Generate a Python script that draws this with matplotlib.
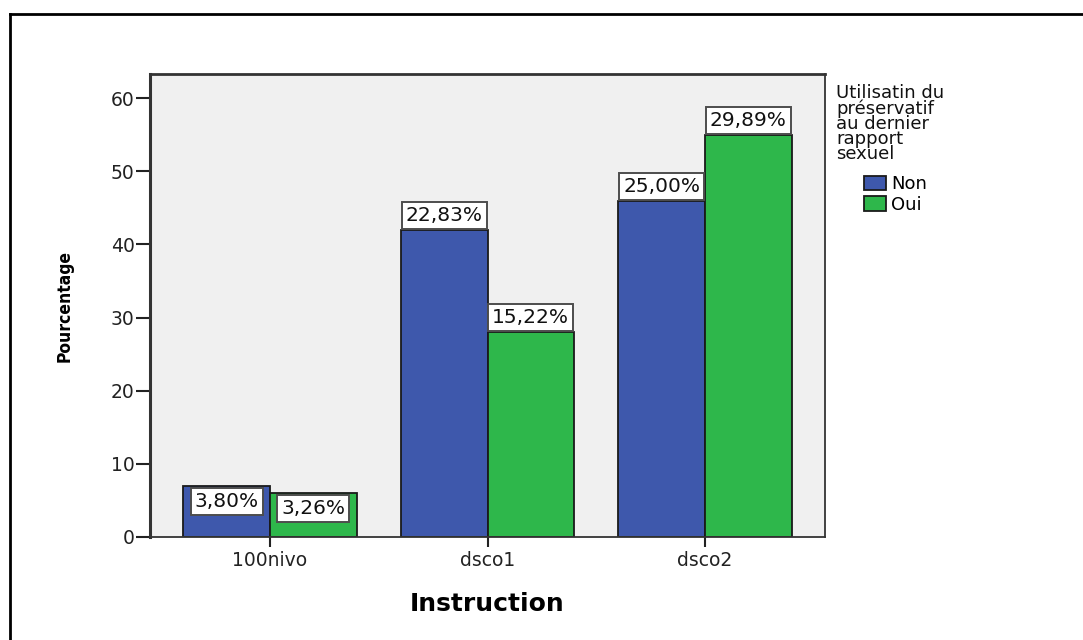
"""Utilisation du préservatif selon l'instruction"""

import matplotlib
matplotlib.use("Agg")
import matplotlib.pyplot as plt
from matplotlib.lines import Line2D
import numpy as np

categories = ["100nivo", "dsco1", "dsco2"]
groups = ["Non", "Oui"]
non_counts = [7, 42, 46]
oui_counts = [6, 28, 55]
non_labels = ["3,80%", "22,83%", "25,00%"]
oui_labels = ["3,26%", "15,22%", "29,89%"]
yticks = [0, 10, 20, 30, 40, 50, 60]

blue = "#3e58ac"
green = "#2eb74b"

plt.rcParams['font.family'] = ['DejaVu Sans']

fig = plt.figure(figsize=(10.83, 6.4), dpi=100)
ax = fig.add_axes([150/1083, 1-537/640, 675/1083, 463/640])
ax.set_facecolor("#f0f0f0")

x = np.arange(len(categories))
w = 0.398
b1 = ax.bar(x - w/2, non_counts, w, color=blue, edgecolor="#1a1a1a", linewidth=1.3, label=groups[0])
b2 = ax.bar(x + w/2, oui_counts, w, color=green, edgecolor="#1a1a1a", linewidth=1.3, label=groups[1])

fs_lab = 14.5
pad = 0.2
box = dict(boxstyle=f"square,pad={pad}", facecolor="white", edgecolor="#4d4d4d", linewidth=1.4)
for bars, labels in [(b1, non_labels), (b2, oui_labels)]:
    for rect, lab in zip(bars, labels):
        cx = rect.get_x() + rect.get_width()/2
        h = rect.get_height()
        if h > 15:
            ax.annotate(lab, (cx, h), xytext=(0, pad*fs_lab + 0.6), textcoords="offset points",
                        ha="center", va="bottom", fontsize=fs_lab, bbox=box, color="#111111")
        else:
            ax.annotate(lab, (cx, h), xytext=(0, -pad*fs_lab - 1.5), textcoords="offset points",
                        ha="center", va="top", fontsize=fs_lab, bbox=box, color="#111111")

ax.set_xlim(-0.552, 2.552)
ax.set_ylim(0, 63.3)
ax.set_yticks(yticks)
ax.set_xticks(x)
ax.set_xticklabels(categories)
ax.tick_params(axis="y", direction="out", length=10, width=1.5, pad=1, labelsize=13.5, colors="#222222")
ax.tick_params(axis="x", direction="out", length=7, width=1.5, pad=3, labelsize=13.5, colors="#222222")

for side in ["left", "top", "right", "bottom"]:
    ax.spines[side].set_color("#333333")
ax.spines["left"].set_linewidth(2.2)
ax.spines["top"].set_linewidth(2.0)
ax.spines["right"].set_linewidth(1.3)
ax.spines["bottom"].set_linewidth(1.3)

ax.set_ylabel("Pourcentage", fontsize=12.5, fontweight="bold", fontstretch="condensed")
ax.yaxis.set_label_coords(-0.1126, 0.5)
ax.set_xlabel("Instruction", fontsize=18, fontweight="bold")
ax.xaxis.set_label_coords(0.5, -0.119)

# légende
fig.text(836/1083, 1-84/640, "Utilisatin du\npréservatif\nau dernier\nrapport\nsexuel",
         ha="left", va="top", fontsize=13, linespacing=0.8, color="#111111")
ax.legend(handles=[b1, b2], loc="upper left", bbox_to_anchor=(864/1083, 1-175/640),
          bbox_transform=fig.transFigure, frameon=False, fontsize=13,
          handlelength=1.2, handleheight=0.85, handletextpad=0.3,
          labelspacing=0.15, borderpad=0, borderaxespad=0)

# cadre de l'image
fig.add_artist(Line2D([10/1083, 10/1083], [0, 1-14/640], transform=fig.transFigure, color="black", linewidth=2))
fig.add_artist(Line2D([10/1083, 1], [1-14/640, 1-14/640], transform=fig.transFigure, color="black", linewidth=2))

fig.savefig("out.png", dpi=100)
